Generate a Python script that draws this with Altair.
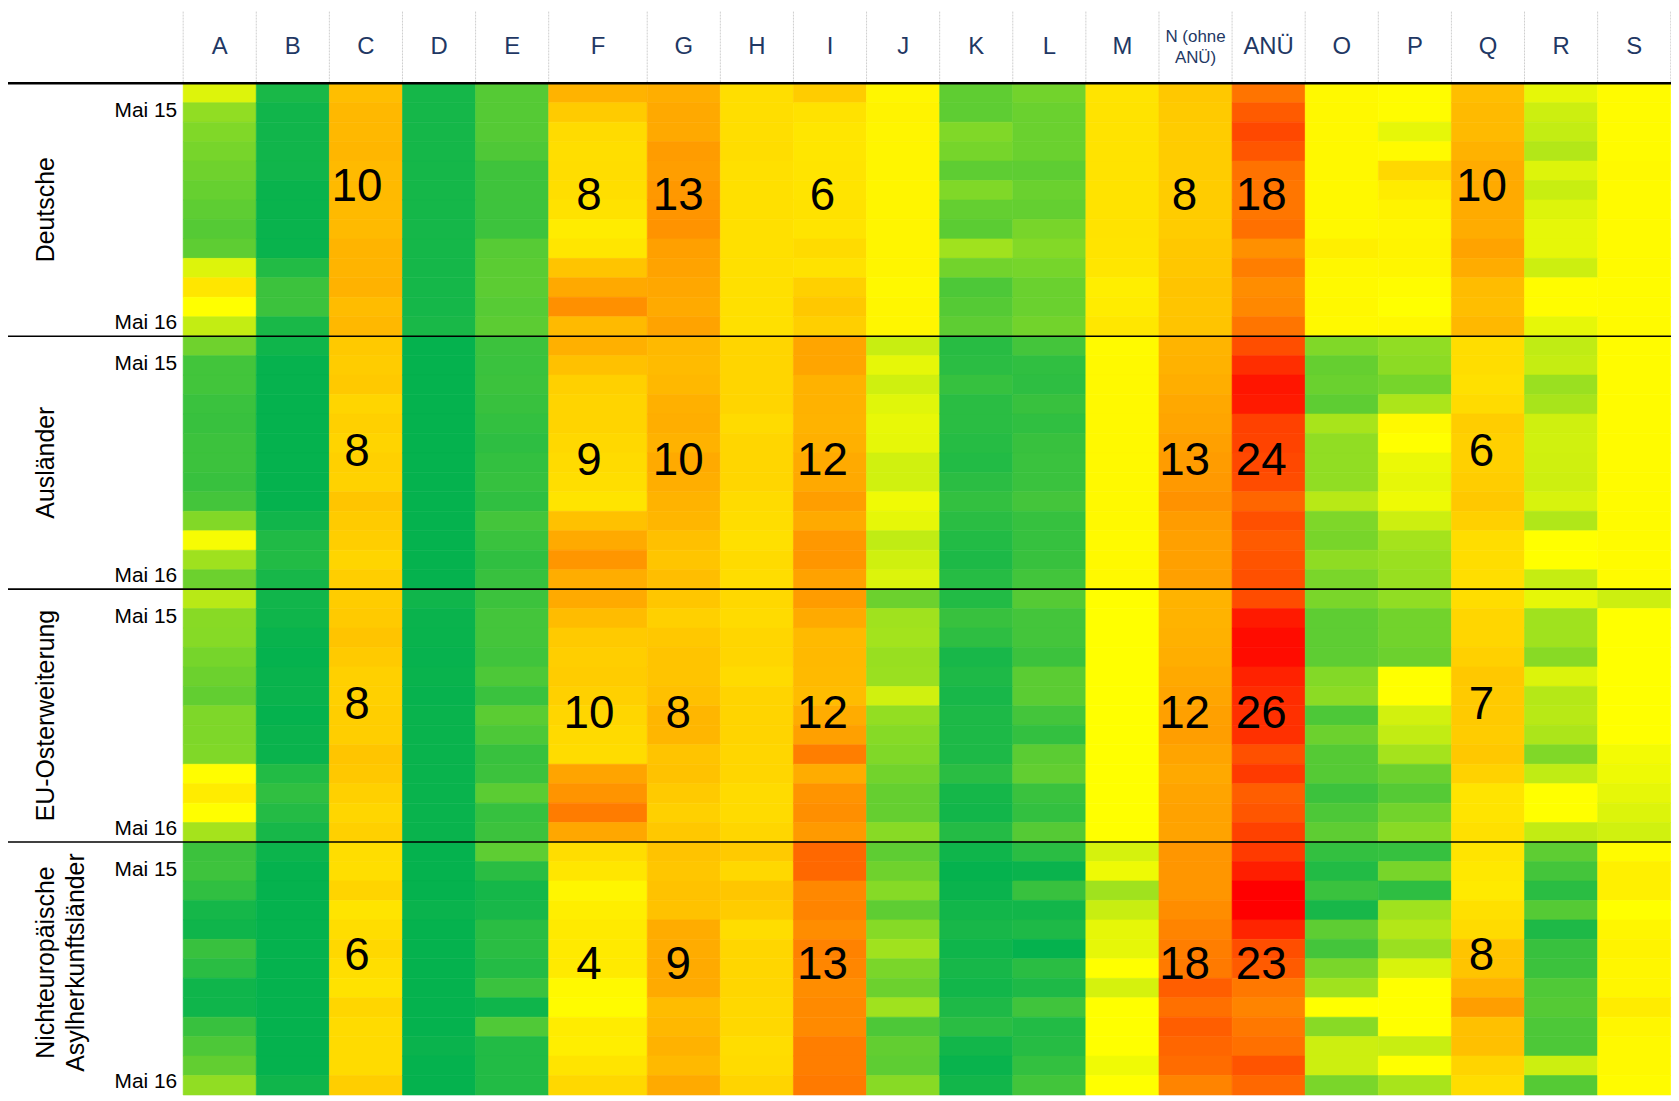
import altair as alt
import pandas as pd

# ---------------- data ----------------
columns = ["A", "B", "C", "D", "E", "F", "G", "H", "I", "J", "K", "L", "M",
           "N (ohne ANÜ)", "ANÜ", "O", "P", "Q", "R", "S"]
groups = ["Deutsche", "Ausländer", "EU-Osterweiterung",
          "Nichteuropäische\nAsylherkunftsländer"]
months = ["Mai 15", "Jun 15", "Jul 15", "Aug 15", "Sep 15", "Okt 15", "Nov 15",
          "Dez 15", "Jan 16", "Feb 16", "Mär 16", "Apr 16", "Mai 16"]
month_ticks = ["Mai 15", "Mai 16"]

deutsche = {
    "A": [2.6, 1.7, 1.5, 1.4, 1.3, 1.2, 1.1, 1.0, 1.1, 2.6, 5.4, 3.0, 2.3],
    "B": [0.3, 0.2, 0.2, 0.2, 0.2, 0.1, 0.1, 0.1, 0.1, 0.4, 0.7, 0.7, 0.3],
    "C": [9.2, 9.8, 9.8, 10.0, 9.6, 9.6, 9.6, 9.6, 10.2, 10.2, 10.4, 9.4, 9.8],
    "D": [0.25, 0.25, 0.25, 0.25, 0.25, 0.25, 0.25, 0.25, 0.25, 0.25, 0.25, 0.25, 0.3],
    "E": [1.0, 1.0, 1.0, 0.93, 0.74, 0.74, 0.73, 0.72, 1.02, 1.07, 1.08, 1.02, 1.08],
    "F": [10.3, 8.0, 6.5, 6.2, 6.3, 6.2, 5.8, 4.8, 5.4, 8.7, 11.3, 13.7, 9.6],
    "G": [10.8, 11.3, 11.3, 12.5, 12.3, 12.9, 13.2, 13.4, 12.1, 11.8, 11.5, 11.2, 11.8],
    "H": [6.2, 6.2, 6.2, 6.3, 6.0, 6.0, 6.0, 6.0, 6.0, 6.0, 6.0, 6.0, 6.0],
    "I": [7.9, 5.8, 5.4, 5.4, 5.6, 5.6, 5.8, 5.6, 6.5, 5.8, 7.5, 8.3, 7.6],
    "J": [3.9, 4.2, 4.0, 4.0, 4.0, 4.0, 4.0, 4.0, 4.0, 4.0, 3.7, 3.9, 3.9],
    "K": [1.12, 1.1, 1.5, 1.39, 1.1, 1.5, 1.18, 1.07, 1.88, 1.34, 0.9, 1.0, 1.1],
    "L": [1.34, 1.25, 1.25, 1.25, 1.1, 1.25, 1.18, 1.41, 1.54, 1.39, 1.25, 1.25, 1.34],
    "M": [5.6, 5.7, 5.7, 5.7, 5.7, 5.7, 5.7, 5.7, 5.6, 5.4, 4.6, 4.8, 5.3],
    "N (ohne ANÜ)": [8.3, 8.1, 7.9, 7.9, 7.9, 7.9, 7.9, 7.9, 8.3, 8.4, 8.7, 8.6, 8.7],
    "ANÜ": [16.4, 18.8, 20.6, 19.2, 16.5, 16.2, 16.2, 16.7, 13.7, 15.4, 14.0, 14.4, 16.3],
    "O": [3.6, 3.7, 3.7, 3.7, 3.7, 3.7, 3.7, 3.7, 4.5, 3.8, 3.6, 3.7, 3.6],
    "P": [3.3, 3.3, 2.7, 3.5, 6.7, 4.8, 4.2, 3.9, 4.1, 3.9, 3.3, 3.0, 3.7],
    "Q": [9.2, 9.6, 9.6, 10.4, 11.1, 11.2, 11.1, 11.0, 11.8, 11.0, 9.4, 9.2, 9.8],
    "R": [2.7, 2.4, 2.3, 2.1, 2.6, 2.35, 2.6, 2.7, 2.7, 2.4, 3.3, 3.3, 2.7],
    "S": [3.4, 3.4, 3.4, 3.4, 3.6, 3.5, 3.5, 3.5, 3.5, 3.5, 3.4, 3.4, 3.5],
}

auslaender = {
    "A": [1.3, 0.78, 0.78, 0.68, 0.66, 0.7, 0.7, 0.66, 0.8, 1.53, 2.9, 1.87, 1.27],
    "B": [0.18, 0.07, 0.07, 0.06, 0.06, 0.06, 0.06, 0.06, 0.06, 0.2, 0.38, 0.4, 0.27],
    "C": [8.2, 7.9, 8.2, 7.0, 7.5, 7.1, 7.5, 7.3, 8.6, 8.0, 7.7, 7.0, 7.7],
    "D": [0.06, 0.06, 0.06, 0.06, 0.06, 0.06, 0.06, 0.06, 0.06, 0.06, 0.06, 0.06, 0.06],
    "E": [0.7, 0.68, 0.7, 0.66, 0.6, 0.54, 0.6, 0.63, 0.56, 0.8, 0.68, 0.56, 0.66],
    "F": [10.6, 9.0, 7.5, 7.1, 7.1, 6.7, 6.5, 6.2, 5.6, 9.0, 11.2, 13.1, 10.9],
    "G": [9.7, 9.5, 9.8, 10.6, 10.8, 10.4, 11.2, 10.8, 10.3, 10.0, 9.1, 8.6, 9.2],
    "H": [7.0, 7.0, 7.0, 7.0, 6.5, 6.9, 6.9, 6.9, 6.5, 6.3, 6.0, 6.5, 6.3],
    "I": [11.6, 11.6, 10.4, 10.4, 10.3, 10.6, 11.2, 11.3, 12.3, 11.2, 12.9, 13.1, 11.9],
    "J": [2.35, 2.7, 2.44, 2.64, 2.73, 2.7, 2.45, 2.45, 2.82, 2.7, 2.26, 2.44, 2.59],
    "K": [0.47, 0.5, 0.63, 0.49, 0.49, 0.45, 0.4, 0.5, 0.6, 0.49, 0.4, 0.34, 0.45],
    "L": [0.8, 0.56, 0.54, 0.66, 0.56, 0.66, 0.68, 0.68, 0.8, 0.64, 0.64, 0.66, 0.78],
    "M": [3.5, 3.6, 3.6, 3.6, 3.6, 3.6, 3.6, 3.6, 3.6, 3.6, 3.5, 3.6, 3.6],
    "N (ohne ANÜ)": [10.2, 10.4, 10.8, 11.4, 11.6, 12.1, 12.5, 12.8, 13.5, 12.5, 12.1, 12.1, 12.1],
    "ANÜ": [20.0, 23.1, 25.5, 25.0, 21.3, 21.1, 20.6, 20.2, 17.7, 19.8, 18.8, 19.4, 19.8],
    "O": [1.5, 1.19, 1.25, 1.1, 1.98, 1.7, 1.7, 1.7, 2.16, 1.48, 1.41, 1.68, 1.44],
    "P": [1.7, 1.65, 1.39, 2.02, 3.6, 3.0, 2.77, 2.7, 2.8, 2.4, 1.94, 1.81, 1.79],
    "Q": [6.25, 6.3, 6.0, 6.5, 7.8, 7.5, 7.5, 7.8, 8.3, 7.5, 6.3, 6.3, 6.2],
    "R": [2.26, 2.32, 1.81, 1.98, 2.44, 2.45, 2.44, 2.41, 2.53, 2.07, 3.0, 3.0, 2.32],
    "S": [3.4, 3.4, 3.4, 3.4, 3.4, 3.4, 3.4, 3.4, 3.4, 3.4, 3.4, 3.4, 3.4],
}

eu_ost = {
    "A": [2.16, 1.6, 1.58, 1.39, 1.27, 1.15, 1.48, 1.48, 1.5, 3.2, 4.8, 3.1, 1.94],
    "B": [0.2, 0.18, 0.1, 0.06, 0.1, 0.12, 0.06, 0.12, 0.12, 0.4, 0.56, 0.42, 0.27],
    "C": [7.9, 8.1, 8.7, 8.1, 7.5, 7.5, 7.7, 7.7, 8.6, 8.3, 7.5, 6.9, 7.5],
    "D": [0.19, 0.12, 0.1, 0.08, 0.1, 0.08, 0.1, 0.1, 0.1, 0.1, 0.1, 0.1, 0.1],
    "E": [0.7, 0.8, 0.8, 0.75, 0.9, 0.68, 1.07, 0.9, 0.66, 0.7, 1.07, 0.63, 0.7],
    "F": [11.2, 9.4, 8.1, 7.7, 7.9, 7.5, 6.9, 6.6, 6.4, 11.7, 13.3, 15.6, 11.5],
    "G": [8.5, 7.5, 8.3, 8.7, 8.7, 9.1, 10.0, 10.0, 8.7, 8.9, 8.1, 7.5, 8.3],
    "H": [6.7, 6.5, 6.9, 6.9, 6.5, 7.1, 7.1, 7.1, 6.9, 6.9, 6.5, 6.5, 6.9],
    "I": [12.5, 11.2, 9.6, 9.7, 9.6, 9.4, 11.0, 12.1, 15.4, 11.0, 13.3, 13.8, 12.7],
    "J": [1.27, 1.88, 1.92, 1.79, 1.81, 2.45, 1.73, 1.58, 1.5, 1.34, 1.19, 1.19, 1.6],
    "K": [0.4, 0.66, 0.54, 0.28, 0.35, 0.28, 0.34, 0.34, 0.34, 0.49, 0.25, 0.21, 0.42],
    "L": [1.0, 0.8, 0.8, 0.7, 1.07, 1.07, 0.8, 0.6, 1.07, 1.15, 0.68, 0.6, 1.0],
    "M": [3.1, 3.0, 3.0, 3.0, 3.0, 3.0, 3.0, 3.0, 3.0, 3.0, 3.0, 3.0, 3.0],
    "N (ohne ANÜ)": [10.3, 10.3, 10.5, 10.8, 11.3, 11.6, 12.1, 12.3, 11.7, 11.3, 11.7, 11.9, 11.8],
    "ANÜ": [20.2, 25.0, 26.3, 26.3, 24.2, 23.3, 22.9, 22.9, 19.8, 21.9, 18.5, 19.2, 21.3],
    "O": [1.44, 1.1, 1.1, 1.1, 1.54, 1.65, 0.9, 1.27, 1.0, 1.0, 0.7, 0.9, 1.1],
    "P": [1.7, 1.34, 1.34, 1.27, 3.0, 3.0, 2.47, 2.28, 1.94, 1.27, 1.0, 1.34, 1.6],
    "Q": [6.3, 6.9, 6.9, 7.5, 8.3, 8.1, 8.1, 7.9, 8.3, 7.3, 5.6, 5.6, 6.0],
    "R": [2.7, 1.88, 1.88, 1.6, 2.59, 2.13, 2.16, 2.02, 1.5, 2.26, 3.0, 3.0, 2.28],
    "S": [2.4, 3.0, 3.0, 3.0, 3.0, 3.0, 3.0, 3.0, 2.86, 2.8, 2.7, 2.59, 2.45],
}

nichteuropaeisch = {
    "A": [0.7, 0.73, 0.56, 0.25, 0.18, 0.66, 0.49, 0.18, 0.18, 0.66, 0.9, 1.15, 1.7],
    "B": [0.14, 0.06, 0.06, 0.06, 0.06, 0.06, 0.06, 0.06, 0.06, 0.06, 0.06, 0.06, 0.19],
    "C": [6.3, 6.2, 7.1, 5.6, 6.3, 6.7, 6.2, 5.8, 6.9, 6.5, 6.5, 6.5, 7.7],
    "D": [0.06, 0.06, 0.06, 0.12, 0.06, 0.06, 0.06, 0.06, 0.06, 0.06, 0.12, 0.06, 0.06],
    "E": [1.1, 0.49, 0.25, 0.28, 0.49, 0.49, 0.42, 0.68, 0.18, 0.94, 0.4, 0.4, 0.4],
    "F": [6.25, 5.4, 3.9, 4.6, 5.0, 5.0, 5.0, 3.6, 3.4, 4.8, 4.6, 5.6, 6.7],
    "G": [8.75, 8.5, 8.9, 8.9, 11.0, 11.0, 11.2, 11.2, 9.4, 9.8, 10.4, 9.7, 11.2],
    "H": [8.1, 6.7, 8.5, 7.9, 6.3, 6.9, 6.9, 6.9, 6.7, 6.7, 6.3, 6.5, 7.1],
    "I": [17.5, 17.5, 14.4, 14.8, 14.0, 15.0, 14.6, 14.0, 14.2, 14.2, 15.4, 15.4, 15.8],
    "J": [1.1, 1.3, 1.58, 1.1, 1.58, 1.88, 1.44, 1.27, 1.88, 0.9, 1.15, 1.1, 1.6],
    "K": [0.18, 0.06, 0.12, 0.21, 0.28, 0.18, 0.27, 0.21, 0.35, 0.49, 0.21, 0.1, 0.21],
    "L": [0.49, 0.12, 0.66, 0.21, 0.35, 0.06, 0.49, 0.35, 0.75, 0.4, 0.45, 0.6, 0.78],
    "M": [2.5, 2.8, 1.88, 2.35, 2.7, 2.7, 3.0, 2.5, 3.0, 3.0, 3.0, 2.82, 3.0],
    "N (ohne ANÜ)": [13.1, 13.1, 13.1, 14.0, 14.8, 15.4, 15.8, 18.5, 16.7, 18.5, 17.7, 17.1, 14.8],
    "ANÜ": [21.9, 24.6, 27.5, 27.5, 24.0, 20.0, 18.8, 16.0, 14.8, 16.0, 16.7, 19.4, 17.5],
    "O": [0.6, 0.4, 0.68, 0.28, 1.1, 0.8, 1.44, 1.88, 3.0, 1.6, 2.4, 2.4, 1.44],
    "P": [0.63, 1.41, 0.54, 1.88, 2.1, 1.81, 2.54, 3.0, 3.0, 3.0, 2.35, 3.0, 1.98],
    "Q": [5.6, 5.2, 5.0, 6.0, 6.5, 8.7, 8.7, 10.4, 12.3, 9.1, 9.1, 7.1, 6.3],
    "R": [1.1, 0.8, 0.49, 1.0, 0.35, 0.66, 0.7, 0.94, 1.0, 0.9, 0.9, 2.4, 1.0],
    "S": [3.4, 4.4, 4.4, 3.0, 3.9, 4.2, 3.9, 3.9, 4.8, 3.9, 3.6, 3.6, 3.4],
}
group_values = [deutsche, auslaender, eu_ost, nichteuropaeisch]

label_columns = ["C", "F", "G", "I", "N (ohne ANÜ)", "ANÜ", "Q"]
labels_deutsche = [10, 8, 13, 6, 8, 18, 10]
labels_auslaender = [8, 9, 10, 12, 13, 24, 6]
labels_eu_ost = [8, 10, 8, 12, 12, 26, 7]
labels_nichteuropaeisch = [6, 4, 9, 13, 18, 23, 8]
group_labels = [labels_deutsche, labels_auslaender, labels_eu_ost, labels_nichteuropaeisch]

# ---------------- layout (styles, not data) ----------------
W, H = 1671, 1090
LEFT = 176          # label area width
HEAD = 73           # header height
ROW = 19.55         # row height
UNIT = 73.46        # standard column width
WIDE = {"F": 99}    # wider columns
col_w = [WIDE.get(c, UNIT) for c in columns]
col_x0 = []
acc = LEFT
for w in col_w:
    col_x0.append(acc)
    acc += w
GROUP_H = 13 * ROW
num_row_pos = [5.68, 6.33, 6.33, 6.22]   # vertical position of big numbers (rows from group top)
num_raise = {"C": 0.47, "Q": 0.47}
num_shift = {"C": -9, "F": -9, "G": -5.5, "I": -7.5, "N (ohne ANÜ)": -11,
             "ANÜ": -7.5, "Q": -6.5}
tick_row_pos = [1.43, 12.33]

FONT = "Liberation Sans, Arial, sans-serif"

# ---------------- tables ----------------
cells = []
for gi, gv in enumerate(group_values):
    for ci, c in enumerate(columns):
        for mi, m in enumerate(months):
            y0 = HEAD + gi * GROUP_H + mi * ROW
            cells.append({"group": groups[gi], "col": c, "month": m,
                          "value": gv[c][mi],
                          "x0": col_x0[ci], "x1": col_x0[ci] + col_w[ci],
                          "y0": y0, "y1": y0 + ROW})
cells = pd.DataFrame(cells)

nums = []
for gi, labs in enumerate(group_labels):
    for c, lab in zip(label_columns, labs):
        ci = columns.index(c)
        pos = num_row_pos[gi] - num_raise.get(c, 0)
        nums.append({"x": col_x0[ci] + col_w[ci] / 2 + num_shift[c],
                     "y": HEAD + gi * GROUP_H + pos * ROW,
                     "text": str(lab)})
nums = pd.DataFrame(nums)

head = pd.DataFrame({
    "x": [col_x0[i] + col_w[i] / 2 for i in range(len(columns))],
    "y": [37] * len(columns),
    "text": [c.replace("N (ohne ANÜ)", "N (ohne\nANÜ)") for c in columns],
    "small": [c == "N (ohne ANÜ)" for c in columns],
})

seps = pd.DataFrame({"x": col_x0 + [acc], "y": [1] * (len(columns) + 1),
                     "y2": [HEAD] * (len(columns) + 1)})

hlines = pd.DataFrame({"x": [0] * 4, "x2": [W] * 4,
                       "y": [HEAD + k * GROUP_H for k in range(4)],
                       "w": [2.6, 1.6, 1.6, 1.6]})

ticks = []
for gi in range(4):
    for t, p in zip(month_ticks, tick_row_pos):
        ticks.append({"x": LEFT - 6, "y": HEAD + gi * GROUP_H + p * ROW, "text": t})
ticks = pd.DataFrame(ticks)

glabels = pd.DataFrame({"x": [38] * 4,
                        "y": [HEAD + gi * GROUP_H + GROUP_H / 2 - (6 if gi == 3 else 0)
                              for gi in range(4)],
                        "text": groups})

# ---------------- chart ----------------
xs = alt.Scale(domain=[0, W], nice=False, zero=False)
ys = alt.Scale(domain=[0, H], nice=False, zero=False, reverse=True)
cscale = alt.Scale(domain=[0, 3, 27.5], range=["#00B050", "#FFFF00", "#FF0000"],
                   interpolate="rgb", clamp=True)

rects = alt.Chart(cells).mark_rect(strokeWidth=0.6).encode(
    x=alt.X("x0:Q", scale=xs, axis=None),
    x2="x1:Q",
    y=alt.Y("y0:Q", scale=ys, axis=None),
    y2="y1:Q",
    color=alt.Color("value:Q", scale=cscale, legend=None),
    stroke=alt.Stroke("value:Q", scale=cscale, legend=None),
)

sep_rules = alt.Chart(seps).mark_rule(color="#CFCFCF", strokeWidth=1, strokeDash=[2, 1]).encode(
    x=alt.X("x:Q", scale=xs), y=alt.Y("y:Q", scale=ys), y2="y2:Q")

h_rules = alt.Chart(hlines).mark_rule(color="black").encode(
    x=alt.X("x:Q", scale=xs), x2="x2:Q", y=alt.Y("y:Q", scale=ys),
    strokeWidth=alt.StrokeWidth("w:Q", scale=None, legend=None))

head_big = alt.Chart(head[~head["small"]]).mark_text(
    font=FONT, fontSize=24, color="#1F3864", baseline="middle", align="center").encode(
    x=alt.X("x:Q", scale=xs), y=alt.Y("y:Q", scale=ys), text="text:N")

head_small = alt.Chart(head[head["small"]]).mark_text(
    font=FONT, fontSize=17, color="#1F3864", baseline="middle", align="center",
    lineBreak="\n", lineHeight=21, dy=-10).encode(
    x=alt.X("x:Q", scale=xs), y=alt.Y("y:Q", scale=ys), text="text:N")

num_text = alt.Chart(nums).mark_text(
    font=FONT, fontSize=46, color="black", baseline="middle", align="center", dy=2).encode(
    x=alt.X("x:Q", scale=xs), y=alt.Y("y:Q", scale=ys), text="text:N")

tick_text = alt.Chart(ticks).mark_text(
    font=FONT, fontSize=21, color="black", baseline="middle", align="right").encode(
    x=alt.X("x:Q", scale=xs), y=alt.Y("y:Q", scale=ys), text="text:N")

group_text = alt.Chart(glabels).mark_text(
    font=FONT, fontSize=25, color="black", baseline="middle", align="center",
    angle=270, lineBreak="\n", lineHeight=30).encode(
    x=alt.X("x:Q", scale=xs), y=alt.Y("y:Q", scale=ys), text="text:N")

chart = alt.layer(rects, sep_rules, h_rules, head_big, head_small, num_text,
                  tick_text, group_text).properties(
    width=W, height=H, padding=0,
    autosize=alt.AutoSizeParams(type="none"),
    background="white",
).configure_view(stroke=None)

chart.save("out.html", embed_options={"renderer": "svg", "actions": False})
